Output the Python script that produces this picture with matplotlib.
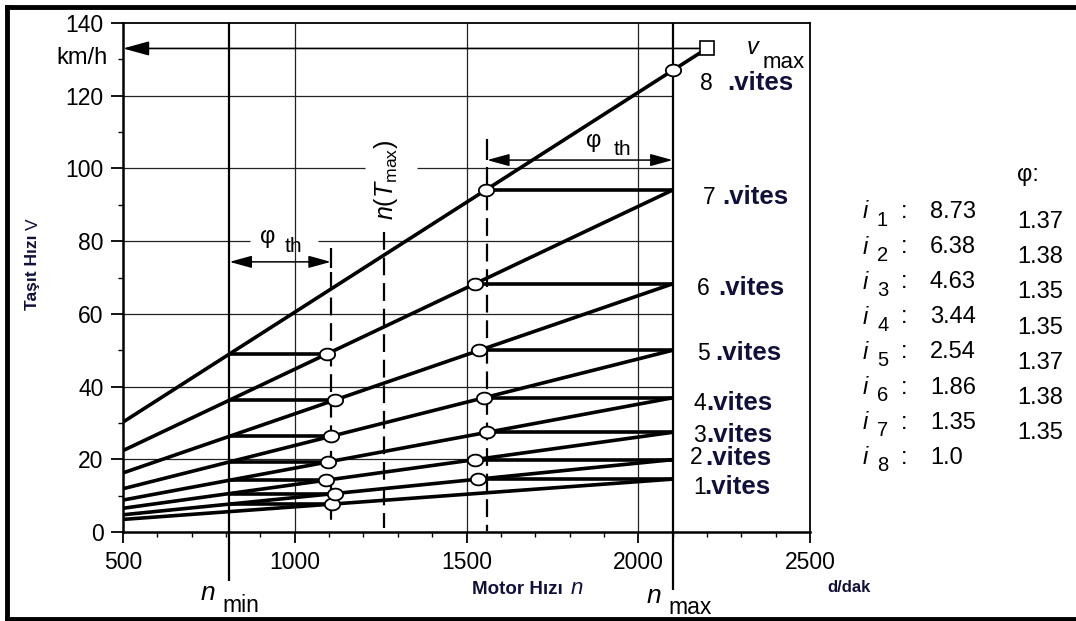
import numpy as np
import matplotlib
matplotlib.use("Agg")
import matplotlib.pyplot as plt
from matplotlib.lines import Line2D
from matplotlib.ticker import MultipleLocator

plt.rcParams["font.family"] = ["Liberation Sans", "DejaVu Sans"]
plt.rcParams["mathtext.fontset"] = "custom"
plt.rcParams["mathtext.rm"] = "Liberation Sans"
plt.rcParams["mathtext.it"] = "Liberation Sans:italic"

# gearbox: ratios i1..i8 and the step ratios phi between them
gears = ["1", "2", "3", "4", "5", "6", "7", "8"]
ratio_labels = ["8.73", "6.38", "4.63", "3.44", "2.54", "1.86", "1.35", "1.0"]
phi_labels = ["1.37", "1.38", "1.35", "1.35", "1.37", "1.38", "1.35"]
ratios = [float(r) for r in ratio_labels]

# engine speeds (d/dak) and top speed (km/h)
n_start = 500
n_min = 810
n_max = 2100
n_vmax = 2200
v_max = 133
n_down = 1105      # downshift points
n_tmax = 1260      # speed of max torque
n_up = 1560        # upshift points

x_ticks = [500, 1000, 1500, 2000, 2500]
y_ticks = [0, 20, 40, 60, 80, 100, 120, 140]


def speed(n, i):
    # vehicle speed in a gear, scaled from top gear at v_max
    return v_max * n / n_vmax / i


W, H = 1076, 621
fig = plt.figure(figsize=(W / 100, H / 100), dpi=100)


def fx(x):
    return x / W


def fy(y):
    return 1 - y / H


ax = fig.add_axes([fx(123), fy(532), (810 - 123) / W, (532 - 23) / H])
ax.set_xlim(500, 2500)
ax.set_ylim(0, 140)

# grid, broken where labels sit on it
grid_gaps = {80: (870, 1068), 100: (1205, 1356)}
for v in y_ticks[1:-1]:
    if v in grid_gaps:
        a, b = grid_gaps[v]
        ax.hlines(v, 500, a, color="#222222", lw=0.9)
        ax.hlines(v, b, n_max, color="#222222", lw=0.9)
    else:
        ax.hlines(v, 500, n_max, color="#222222", lw=0.9)
for n in x_ticks[1:-1]:
    ax.vlines(n, 0, 140, color="#222222", lw=0.9)

ax.vlines(n_min, -13.5, 140, color="k", lw=1.6, clip_on=False)
ax.vlines(n_max, -16, 140, color="k", lw=1.6, clip_on=False)

# gear lines
for k, i in enumerate(ratios):
    n_end = n_vmax if k == len(ratios) - 1 else n_max
    ax.plot([n_start, n_end], [speed(n_start, i), speed(n_end, i)],
            color="k", lw=2.6, solid_capstyle="butt", zorder=3)

t = np.linspace(0, 2 * np.pi, 60)
ellipse = np.column_stack([1.3 * np.cos(t), np.sin(t)])
mk = dict(marker=ellipse, ms=11, mfc="white", mec="k", mew=1.3, ls="none", zorder=5)

# upshift: from n_max in gear k to the next gear
for k in range(len(ratios) - 1):
    v = speed(n_max, ratios[k])
    n_next = n_max * ratios[k + 1] / ratios[k]
    ax.plot([n_next, n_max], [v, v], color="k", lw=2.6, solid_capstyle="butt", zorder=3)
    ax.plot(n_next, v, **mk)

# downshift: from n_min in gear k+1 to gear k
for k in range(len(ratios) - 1):
    v = speed(n_min, ratios[k + 1])
    n_prev = n_min * ratios[k] / ratios[k + 1]
    ax.plot([n_min, n_prev], [v, v], color="k", lw=2.6, solid_capstyle="butt", zorder=3)
    ax.plot(n_prev, v, **mk)

ax.plot(n_max, speed(n_max, ratios[-1]), **mk)
ax.plot(n_vmax, v_max, marker="s", ms=10.5, mfc="white", mec="k", mew=1.2, zorder=6)

head = "-|>,head_length=0.8,head_width=0.22"
ax.annotate("", xy=(500, v_max), xytext=(n_vmax - 15, v_max),
            arrowprops=dict(arrowstyle=head, lw=1.2, color="k",
                            mutation_scale=20, shrinkA=0, shrinkB=0))

# dashed reference lines
dash = dict(color="k", lw=1.6, dashes=[8, 3.5])
ax.plot([n_down, n_down], [71.5, 1.4], **dash)
ax.plot([n_tmax, n_tmax], [82.5, 1.0], **dash)
ax.plot([n_up, n_up], [100.5, 0.2], **dash)
ax.vlines(n_down, 72.6, 78, color="k", lw=1.6)
ax.vlines(n_up, 102.3, 108, color="k", lw=1.6)

both = "<|-|>,head_length=0.8,head_width=0.22"
for a, b, v in [(n_min, n_down, 74.3), (n_up, n_max, 102.3)]:
    ax.annotate("", xy=(b, v), xytext=(a, v),
                arrowprops=dict(arrowstyle=both, lw=1.1, color="k",
                                mutation_scale=17, shrinkA=0, shrinkB=0))

ax.text(922, 81.1, "φ", fontsize=17, ha="center", va="center")
ax.text(995, 78.4, "th", fontsize=15, ha="center", va="center")
ax.text(1871, 107.5, "φ", fontsize=17, ha="center", va="center")
ax.text(1953, 105.1, "th", fontsize=15, ha="center", va="center")
ax.text(1266, 96.8, r"$n(T_{\mathrm{max}})$", rotation=90, fontsize=18,
        ha="center", va="center")

# axes and ticks
ax.set_xticks(x_ticks)
ax.set_xticklabels([str(v) for v in x_ticks])
ax.set_yticks(y_ticks)
ax.set_yticklabels([str(v) for v in y_ticks])
ax.xaxis.set_minor_locator(MultipleLocator(100))
ax.yaxis.set_minor_locator(MultipleLocator(10))
ax.tick_params(axis="x", which="major", direction="out", length=8, width=1.3,
               pad=6, labelsize=16.5)
ax.tick_params(axis="y", which="major", direction="out", length=9, width=1.3,
               pad=5, labelsize=16.5)
ax.tick_params(which="minor", direction="out", length=3.5, width=1.0)
for s in ["left", "bottom"]:
    ax.spines[s].set_linewidth(1.8)
for s in ["top", "right"]:
    ax.spines[s].set_linewidth(1.3)

# gear names at the right of n_max
navy = "#10103a"
gear_pos = [(693, 704, 487), (690, 705, 458), (693, 706, 435), (693, 706, 403),
            (697, 715, 353), (697, 718, 288), (703, 722, 197), (700, 727, 83)]
for g, (xd, xv, y) in zip(gears, gear_pos):
    fig.text(fx(xd), fy(y), g, fontsize=16.5, ha="left", va="center")
    fig.text(fx(xv), fy(y), ".vites", fontsize=18.5, fontweight="bold",
             color=navy, ha="left", va="center")

fig.text(fx(753), fy(48), "v", fontsize=17, style="italic", ha="center", va="center")
fig.text(fx(763), fy(62), "max", fontsize=16, ha="left", va="center")

# axis titles
fig.text(fx(108), fy(58), "km/h", fontsize=17, ha="right", va="center")
fig.text(fx(33), fy(272), "Taşıt Hızı", fontsize=12.5, fontweight="bold",
         color=navy, rotation=90, ha="center", va="center")
fig.text(fx(33), fy(224), "V", fontsize=12.5, color=navy, rotation=90,
         ha="center", va="center")
fig.text(fx(472), fy(590), "Motor Hızı", fontsize=13.5, fontweight="bold",
         color=navy, ha="left", va="center")
fig.text(fx(571), fy(589), "n", fontsize=16, style="italic", color=navy,
         ha="left", va="center")
fig.text(fx(827), fy(587), "d/dak", fontsize=12, fontweight="bold",
         color=navy, ha="left", va="center")

fig.text(fx(201), fy(593), "n", fontsize=19, style="italic", ha="left", va="center")
fig.text(fx(222), fy(605), "min", fontsize=16.5, ha="left", va="center")
fig.text(fx(647), fy(596), "n", fontsize=19, style="italic", ha="left", va="center")
fig.text(fx(668), fy(608), "max", fontsize=16.5, ha="left", va="center")

# ratio table
fig.text(fx(1017), fy(175), "φ:", fontsize=17, ha="left", va="center")
for k, r in enumerate(ratio_labels):
    y = 212 + 35.1 * k
    fig.text(fx(863), fy(y), "i", fontsize=17, style="italic", ha="left", va="center")
    fig.text(fx(877), fy(y + 8), gears[k], fontsize=14.5, ha="left", va="center")
    fig.text(fx(901), fy(y), ":", fontsize=17, ha="left", va="center")
    fig.text(fx(930), fy(y), r, fontsize=17, ha="left", va="center")
for k, p in enumerate(phi_labels):
    fig.text(fx(1017), fy(222 + 35.2 * k), p, fontsize=17, ha="left", va="center")

# page frame
for xs, ys in [([7, 7], [7, 619]), ([7, W], [7, 7]), ([7, W], [619, 619])]:
    fig.add_artist(Line2D([fx(x) for x in xs], [fy(y) for y in ys],
                          transform=fig.transFigure, color="k", lw=3.5))

fig.savefig("out.png", dpi=100)
